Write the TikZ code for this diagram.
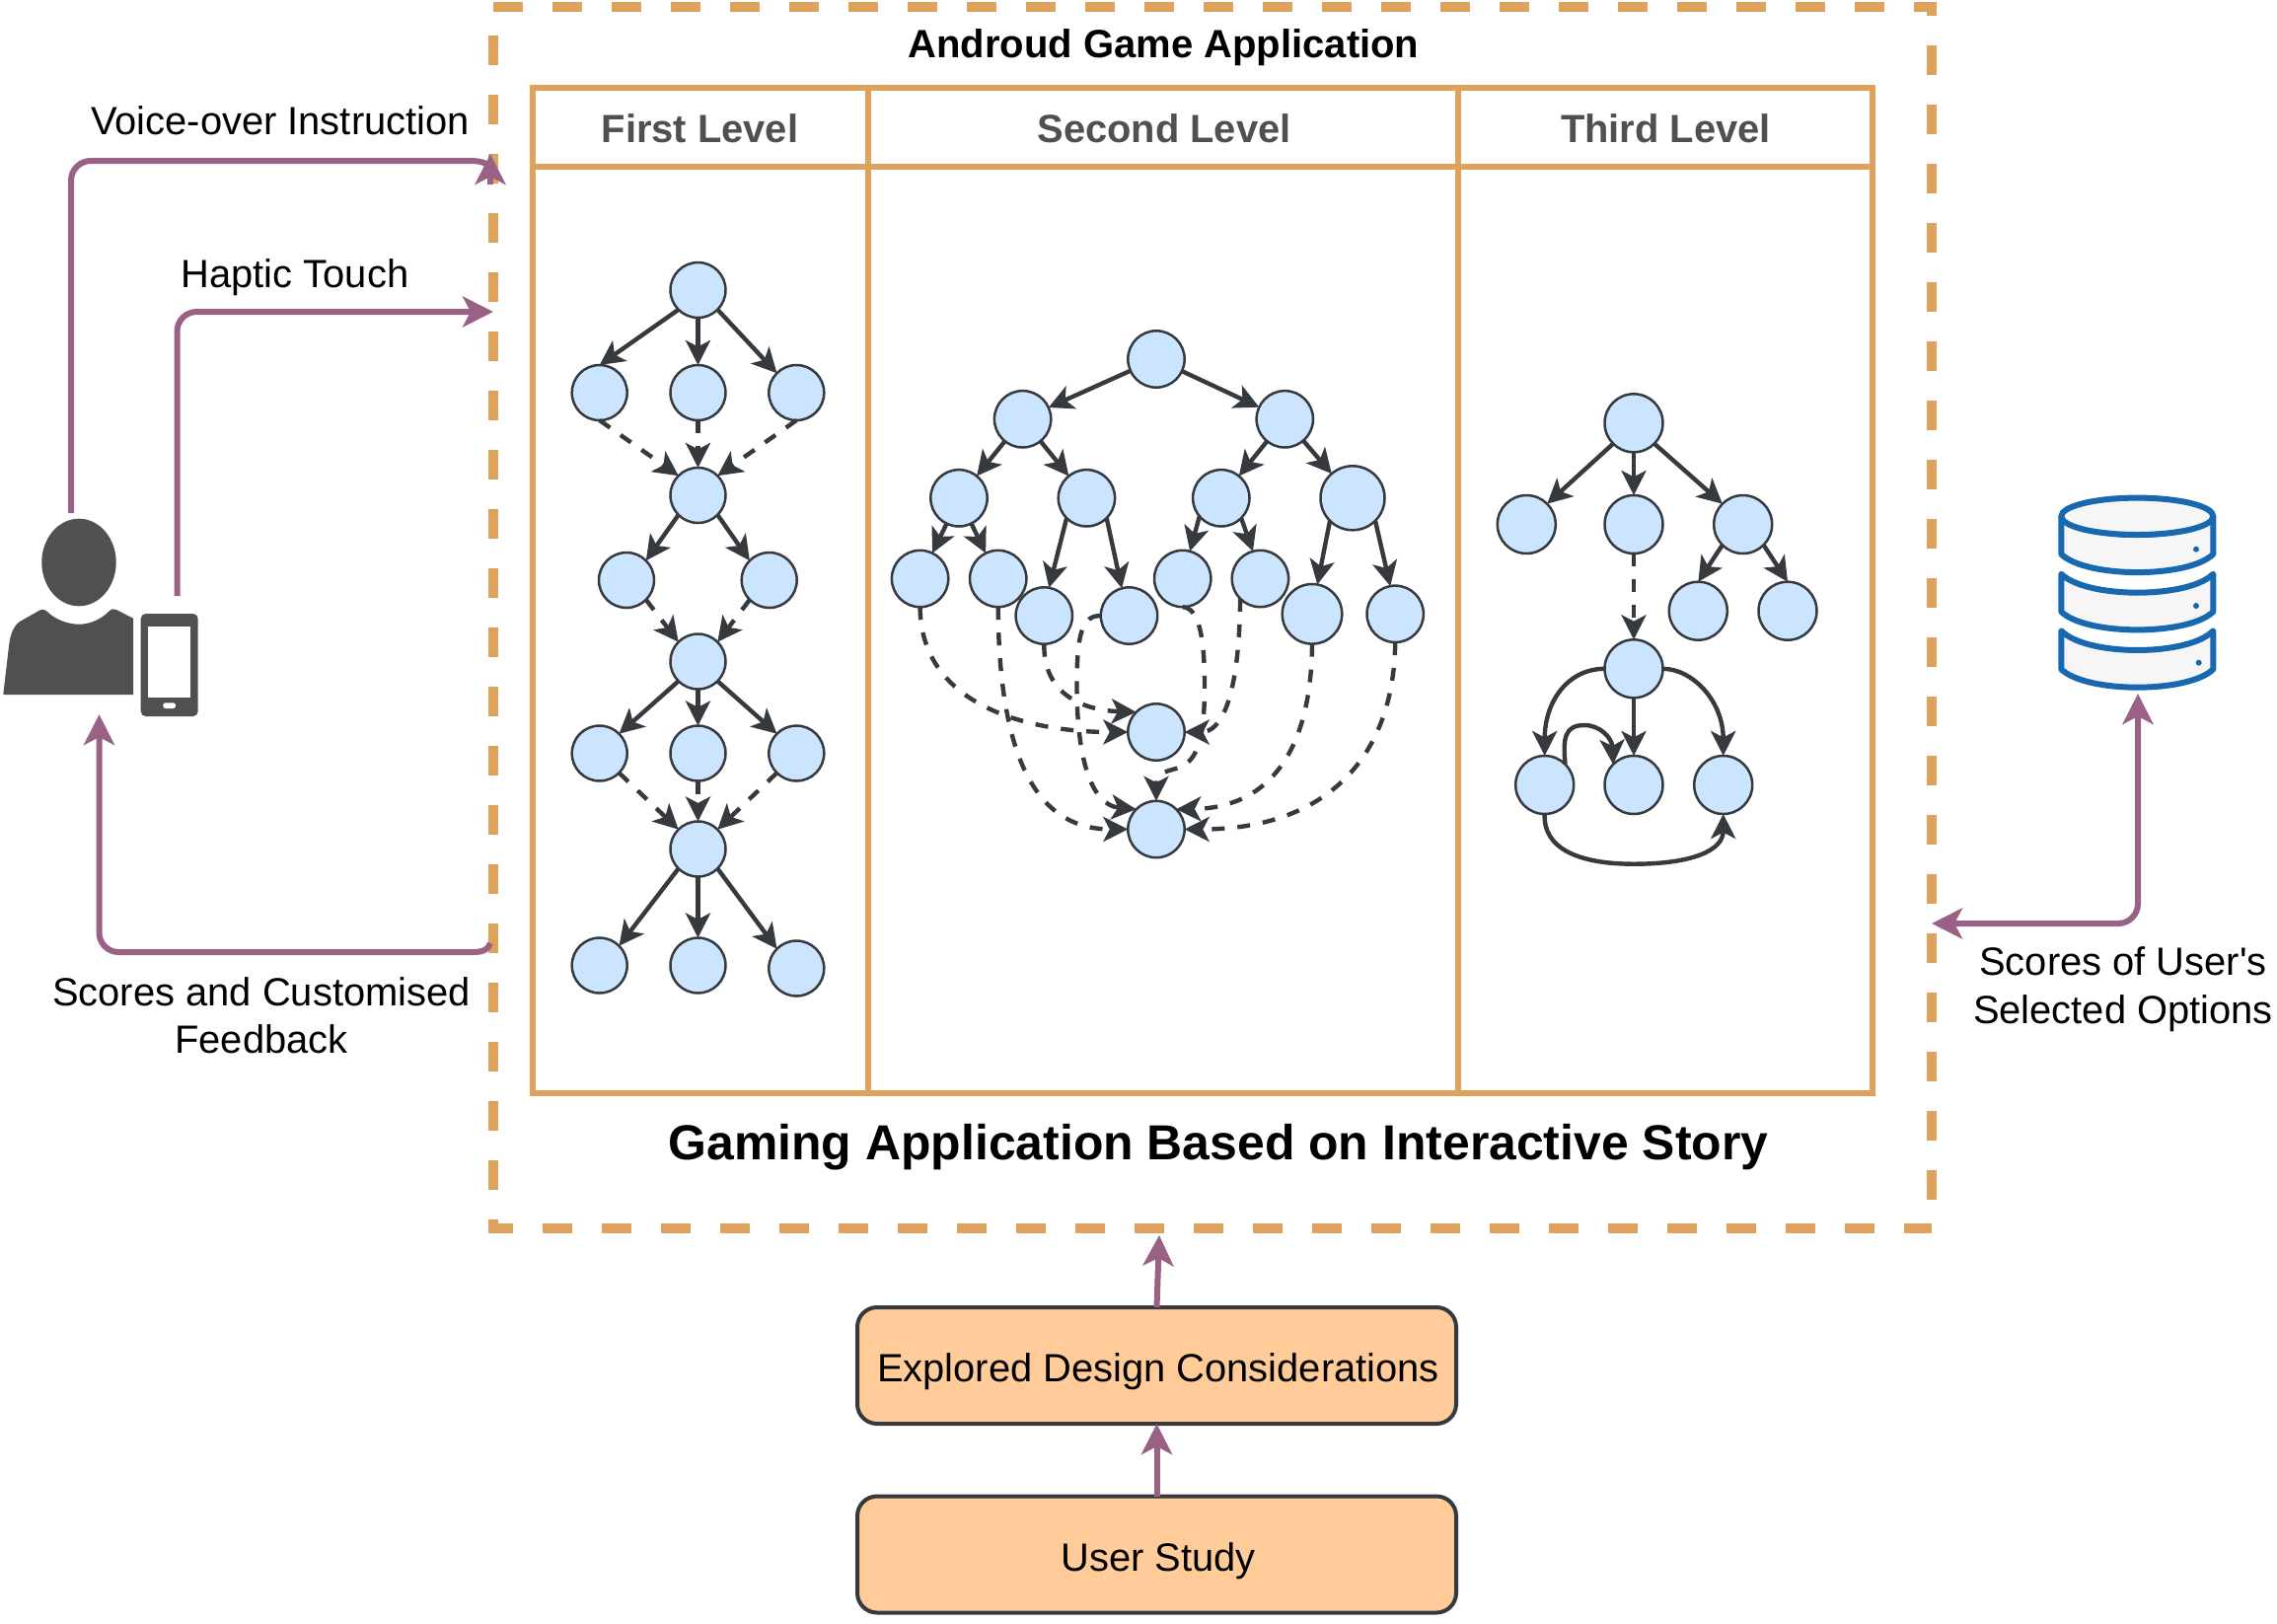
\documentclass[tikz,border=0pt]{standalone}
\usepackage{fontspec}
\setmainfont{Liberation Sans}
\newfontfamily\plainf{Liberation Sans}
\usetikzlibrary{arrows.meta}
\definecolor{boxor}{HTML}{DEA25C}
\definecolor{purp}{HTML}{996185}
\definecolor{dark}{HTML}{36393D}
\definecolor{nodeblue}{HTML}{CCE5FF}
\definecolor{peach}{HTML}{FFCC99}
\definecolor{icong}{HTML}{505050}
\definecolor{dbblue}{HTML}{1868AF}
\definecolor{dbfill}{HTML}{F6F6F6}
\newcommand{\dbband}[3]{\filldraw[dbline] (2089.3,#1) .. controls (2115,{#1+#3*1.33}) and (2218,{#1+#3*1.33}) .. (2243.3,#1) -- (2243.3,#2) .. controls (2218,{#2+24.5}) and (2115,{#2+24.5}) .. (2089.3,#2) -- cycle;}
\tikzset{
  x=0.5pt,y=-0.5pt,
  lbl/.style={anchor=base,inner sep=0pt,outer sep=0pt,align=center,font=\plainf\fontsize{19.95}{24}\selectfont},
  hdr/.style={lbl,font=\plainf\fontsize{19.95}{24}\selectfont\bfseries,text=icong},
  ttl/.style={lbl,font=\plainf\fontsize{20}{24}\selectfont\bfseries},
  outerdash/.style={boxor,line width=5pt,dash pattern=on 15pt off 15pt},
  tbl/.style={boxor,line width=3pt},
  gn/.style={circle,draw=dark,fill=nodeblue,line width=1.25pt,inner sep=0pt,outer sep=0pt,minimum size=#1},
  gn/.default=28pt,
  sol/.style={dark,line width=2.2pt,-{Stealth[length=12.5pt,width=12.5pt,inset=3.2pt]}},
  dsh/.style={sol,dash pattern=on 6.5pt off 6.5pt},
  parrow/.style={purp,line width=3pt,-{Stealth[length=15.5pt,width=15.5pt,inset=4pt]}},
  pboth/.style={purp,line width=3pt,{Stealth[length=15.5pt,width=15.5pt,inset=4pt]}-{Stealth[length=15.5pt,width=15.5pt,inset=4pt]}},
  pline/.style={purp,line width=3pt},
  stepbox/.style={draw=dark,fill=peach,line width=2pt,rounded corners=10pt,inner sep=0pt,outer sep=0pt,minimum width=303.5pt,minimum height=59pt},
  dbline/.style={draw=dbblue,fill=dbfill,line width=3pt,line join=round,line cap=round},
}
\begin{document}
\begin{tikzpicture}
\useasboundingbox (0,0) rectangle (2308,1645);
% outer dashed frame
\coordinate (tl) at (500,7); \coordinate (tr) at (1963,7);
\coordinate (trv) at (1958,2); \coordinate (brv) at (1958,1245);
\coordinate (blh) at (495,1245); \coordinate (brh) at (1958,1245);
\coordinate (blv) at (500,1250);
\draw[outerdash] (tl) -- (tr);
\draw[outerdash,dash phase=8pt] (trv) -- (brv);
\draw[outerdash,dash phase=2.5pt] (blh) -- (brh);
\draw[outerdash,dash phase=15.5pt] (tl) -- (blv);
% table
\draw[tbl] (540,89) rectangle (1898,1108);
\draw[tbl] (540,169) -- (1898,169);
\draw[tbl] (880,89) -- (880,1108);
\draw[tbl] (1478,89) -- (1478,1108);
\node[hdr] (h1) at (709.5,144) {First Level};
\node[hdr] (h2) at (1180,144) {Second Level};
\node[hdr] (h3) at (1688.5,144) {Third Level};
\node[ttl] (apptitle) at (1179.5,58) {Androud Game Application};
\node[lbl,font=\plainf\fontsize{24.95}{30}\selectfont\bfseries] (gaming) at (1235,1175) {Gaming Application Based on Interactive Story};
% labels
\node[lbl] (lv) at (284,136) {Voice-over Instruction};
\node[lbl] (lh) at (299,291.5) {Haptic Touch};
\node[lbl] (ls) at (265,1019) {Scores and Customised};
\node[lbl] (lf) at (265,1067) {Feedback};
\node[lbl] (lu) at (2152,988) {Scores of User's};
\node[lbl] (lo) at (2152,1037) {Selected Options};
% first level
\node[gn] (a0) at (707.5,294) {};
\node[gn] (a1) at (607.7,398) {};
\node[gn] (a2) at (707.5,398) {};
\node[gn] (a3) at (807.3,398) {};
\node[gn] (a4) at (707.5,502) {};
\node[gn] (a5) at (635,588) {};
\node[gn] (a6) at (779.7,588) {};
\node[gn] (a7) at (707.5,670.5) {};
\node[gn] (a8) at (607.7,763.5) {};
\node[gn] (a9) at (707.5,763.5) {};
\node[gn] (a10) at (807.3,763.5) {};
\node[gn] (a11) at (707.5,860.5) {};
\node[gn] (a12) at (607.7,978.5) {};
\node[gn] (a13) at (707.5,978.5) {};
\node[gn] (a14) at (807.3,981.5) {};
\draw[sol] (a0.south west) -- (a1.north);
\draw[sol] (a0.south) -- (a2.north);
\draw[sol] (a0.south east) -- (a3.north west);
\draw[dsh] (a1.south) -- (a4.north west);
\draw[dsh] (a2.south) -- (a4.north);
\draw[dsh] (a3.south) -- (a4.north east);
\draw[sol] (a4.south west) -- (a5.north east);
\draw[sol] (a4.south east) -- (a6.north west);
\draw[dsh] (a5.south east) -- (a7.north west);
\draw[dsh] (a6.south west) -- (a7.north east);
\draw[sol] (a7.south west) -- (a8.north east);
\draw[sol] (a7.south) -- (a9.north);
\draw[sol] (a7.south east) -- (a10.north west);
\draw[dsh] (a8.south east) -- (a11.north west);
\draw[dsh] (a9.south) -- (a11.north);
\draw[dsh] (a10.south west) -- (a11.north east);
\draw[sol] (a11.south west) -- (a12.north east);
\draw[sol] (a11.south) -- (a13.north);
\draw[sol] (a11.south east) -- (a14.north west);
% second level
\node[gn=28.7pt] (r) at (1172,364) {};
\node[gn=28.7pt] (A) at (1036.6,424.8) {};
\node[gn=28.7pt] (B) at (1302.3,424.8) {};
\node[gn=28.7pt] (C) at (972,504.8) {};
\node[gn=28.7pt] (D) at (1101.4,504.8) {};
\node[gn=28.7pt] (E) at (1237.8,504.8) {};
\node[gn=32.5pt] (F) at (1371,504.8) {};
\node[gn=28.7pt] (G) at (932.6,586.5) {};
\node[gn=28.7pt] (H) at (1011.7,586.5) {};
\node[gn=28.7pt] (I) at (1058.3,624) {};
\node[gn=28.7pt] (J) at (1144.5,624) {};
\node[gn=28.7pt] (K) at (1198.7,586.5) {};
\node[gn=28.7pt] (L) at (1277.4,586.5) {};
\node[gn=30.3pt] (M) at (1330,622.3) {};
\node[gn=28.7pt] (N) at (1414.2,622.3) {};
\node[gn=28.7pt] (O) at (1172,742) {};
\node[gn=28.7pt] (P) at (1172,840.5) {};
\draw[sol] (r) -- (A);
\draw[sol] (r) -- (B);
\draw[sol] (A) -- (C);
\draw[sol] (A) -- (D);
\draw[sol] (B) -- (E);
\draw[sol] (B) -- (F);
\draw[sol] (C) -- (G);
\draw[sol] (C) -- (H);
\draw[sol] (D.225) -- (I.80);
\draw[sol] (D.315) -- (J.105);
\draw[sol] (E.220) -- (K.75);
\draw[sol] (E.315) -- (L.105);
\draw[sol] (F.225) -- (M.80);
\draw[sol] (F.315) -- (N.100);
\draw[dsh] (G.south) .. controls (933,713) and (1038,742) .. (O.west);
\draw[dsh] (H.south) .. controls (1012.5,802) and (1070,840.5) .. (P.west);
\draw[dsh] (I.south) .. controls (1057.5,706) and (1101,720) .. (O.north west);
\draw[dsh] (J.west) .. controls (1097,624) and (1091.5,641) .. (1091.5,695) .. controls (1091.5,766) and (1105,816) .. (P.north west);
\draw[dsh] (K.south) .. controls (1214,616) and (1221,641) .. (1221,695) .. controls (1221,755) and (1212,773) .. (1192,779) .. controls (1181,782) and (1172,784) .. (P.north);
\draw[dsh] (L.south west) .. controls (1256,713) and (1236,742) .. (O.east);
\draw[dsh] (M.south) .. controls (1329,766) and (1283,819) .. (P.north east);
\draw[dsh] (N.south) .. controls (1413,766) and (1346,840.5) .. (P.east);
% third level
\node[gn=29.5pt] (t0) at (1656,428.8) {};
\node[gn=29.5pt] (t1) at (1547.3,531.5) {};
\node[gn=29.5pt] (t2) at (1656,531.5) {};
\node[gn=29.5pt] (t3) at (1766.7,531.5) {};
\node[gn=29.5pt] (t4) at (1721.3,619.2) {};
\node[gn=29.5pt] (t5) at (1812,619.2) {};
\node[gn=29.5pt] (t6) at (1656,677.8) {};
\node[gn=29.5pt] (t7) at (1565.7,795.5) {};
\node[gn=29.5pt] (t8) at (1656,795.5) {};
\node[gn=29.5pt] (t9) at (1746.7,795.5) {};
\draw[sol] (t0.south west) -- (t1.north east);
\draw[sol] (t0.south) -- (t2.north);
\draw[sol] (t0.south east) -- (t3.north west);
\draw[sol] (t3.south west) -- (t4.north);
\draw[sol] (t3.south east) -- (t5.north);
\draw[dsh] (t2.south) -- (t6.north);
\draw[sol] (t6.west) .. controls (1590,677.8) and (1565.7,710) .. (t7.north);
\draw[sol] (t6.south) -- (t8.north);
\draw[sol] (t6.east) .. controls (1715,677.8) and (1746.7,710) .. (t9.north);
\draw[sol] (t7.north east) .. controls (1584,748) and (1586,735) .. (1606,735) .. controls (1622,735) and (1634,748) .. (t8.north west);
\draw[sol] (t7.south) .. controls (1564,860) and (1600,875.7) .. (1656,875.7) .. controls (1715,875.7) and (1746.7,862) .. (t9.south);
% boxes
\node[stepbox,anchor=center] (ed) at (1172.5,1384) {};
\node[stepbox,anchor=center] (us) at (1172.5,1575.5) {};
\node[lbl] (edt) at (1174,1400) {Explored Design Considerations};
\node[lbl] (ust) at (1174,1592) {User Study};
\coordinate (frameb) at (1175,1252);
\draw[parrow] (ed.north) -- (frameb);
\draw[parrow] (us.north) -- (ed.south);
% person + phone
\fill[icong] (80,570) ellipse [x radius=37.7,y radius=44.3];
\fill[icong] (3.3,704) -- (135,704) -- (135,626.7) -- (118,618) .. controls (115,616.5) and (113,617) .. (110,620) .. controls (102,628) and (91,632.7) .. (80,632.7) .. controls (69,632.7) and (56,628) .. (48,620) .. controls (46,617.5) and (43,617) .. (40,618.7) -- (20,630) .. controls (13,635) and (10,645) .. (9,655) -- cycle;
\fill[icong,rounded corners=2.5pt] (142.7,622) rectangle (200.7,726);
\fill[white] (150,635) rectangle (193.3,707.3);
\fill[white,rounded corners=1.2pt] (165.3,712.3) rectangle (178,718);
% database
\dbband{639.3}{678.3}{19.7}
\dbband{581.7}{620}{19}
\dbband{523.3}{561.7}{18.7}
\filldraw[dbline] (2166.3,523.3) ellipse [x radius=77,y radius=18.7];
\fill[dbblue] (2226,556.7) circle [radius=3];
\fill[dbblue] (2226,614) circle [radius=3];
\fill[dbblue] (2228.7,671.7) circle [radius=3];
\coordinate (db) at (2167,703);
% purple connectors
\coordinate (vs) at (72,520);
\coordinate (vb) at (497,187);
\coordinate (vt) at (497,156);
\draw[pline] (vs) -- (72,183) .. controls (72,172) and (81,163) .. (92,163) -- (476,163) .. controls (490,163) and (497,166) .. (497,175);
\draw[parrow] (vb) -- (vt);
\coordinate (hs) at (179.5,604);
\coordinate (ht) at (500,316);
\draw[parrow] (hs) -- (179.5,336) .. controls (179.5,325) and (188,316) .. (199.5,316) -- (ht);
\coordinate (ss) at (497,956);
\coordinate (st) at (100.5,724);
\draw[parrow] (ss) .. controls (495,962) and (490,965) .. (480,965) -- (120.5,965) .. controls (109,965) and (100.5,956) .. (100.5,945) -- (st);
\coordinate (rt) at (1958,936);
\draw[pboth] (db) -- (2167,916) .. controls (2167,927) and (2158,936) .. (2147,936) -- (rt);
\end{tikzpicture}
\end{document}
